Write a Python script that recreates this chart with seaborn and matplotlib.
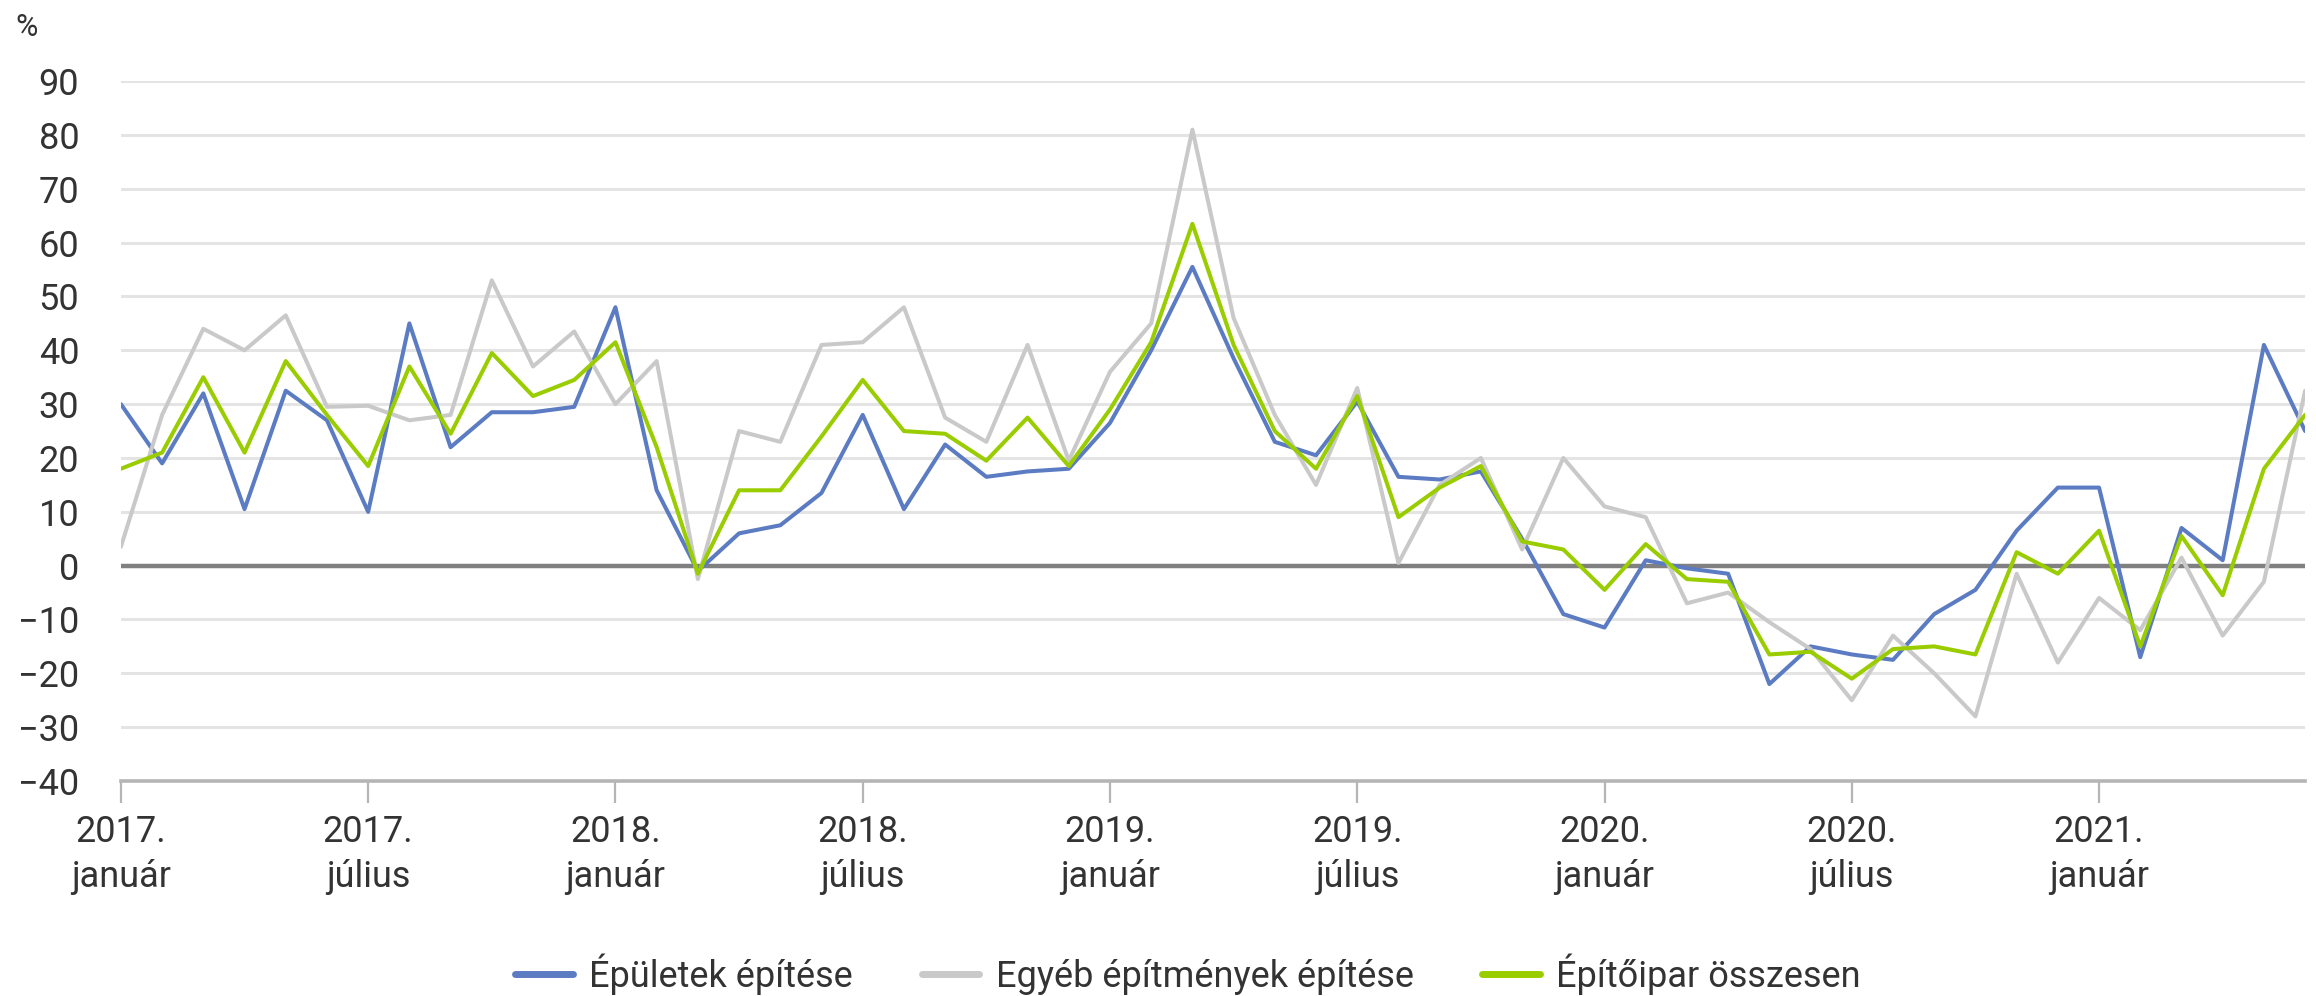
import numpy as np
import pandas as pd
import matplotlib
matplotlib.use("Agg")
import matplotlib.pyplot as plt
import seaborn as sns

# ---- data ----
month_index = list(range(54))  # 2017 January .. 2021 June
tick_positions = [0, 6, 12, 18, 24, 30, 36, 42, 48]
tick_labels = ["2017.\njanuár", "2017.\njúlius", "2018.\njanuár", "2018.\njúlius",
               "2019.\njanuár", "2019.\njúlius", "2020.\njanuár", "2020.\njúlius",
               "2021.\njanuár"]

epuletek = [30, 19, 32, 10.5, 32.5, 27, 10, 45, 22, 28.5, 28.5, 29.5, 48, 14, -1, 6, 7.5,
            13.5, 28, 10.5, 22.5, 16.5, 17.5, 18, 26.5, 40, 55.5, 38.5, 23, 20.5, 30.5,
            16.5, 16, 17.5, 5, -9, -11.5, 1, -0.5, -1.5, -22, -15, -16.5, -17.5, -9, -4.5,
            6.5, 14.5, 14.5, -17, 7, 1, 41, 25]
egyeb = [3.5, 28, 44, 40, 46.5, 29.5, 29.7, 27, 28, 53, 37, 43.5, 30, 38, -2.5, 25, 23,
         41, 41.5, 48, 27.5, 23, 41, 19.5, 36, 45, 81, 46, 28, 15, 33, 0.5, 15, 20, 3, 20,
         11, 9, -7, -5, -10.5, -15.5, -25, -13, -20, -28, -1.5, -18, -6, -12, 1.5, -13,
         -3, 32.5]
osszesen = [18, 21, 35, 21, 38, 28, 18.5, 37, 24.5, 39.5, 31.5, 34.5, 41.5, 22, -1.5, 14,
            14, 24, 34.5, 25, 24.5, 19.5, 27.5, 18.5, 29, 41.5, 63.5, 41, 25, 18, 31.5, 9,
            14.5, 18.5, 4.5, 3, -4.5, 4, -2.5, -3, -16.5, -16, -21, -15.5, -15, -16.5, 2.5,
            -1.5, 6.5, -15, 5.5, -5.5, 18, 28]

series_names = ["Épületek építése", "Egyéb építmények építése", "Építőipar összesen"]
series_colors = ["#5B7BC2", "#C9C9C9", "#9ACD00"]

df = pd.concat([
    pd.DataFrame({"month": month_index, "value": vals, "series": name})
    for name, vals in zip(series_names, [epuletek, egyeb, osszesen])
], ignore_index=True)

# ---- style ----
sns.set_theme(style="white")
plt.rcParams["font.family"] = ["Roboto", "DejaVu Sans"]
text_color = "#333333"

fig = plt.figure(figsize=(23.16, 9.96), dpi=100)
ax = fig.add_axes([0.0522, 0.2159, 0.9431, 0.7026])

ax.set_ylim(-40, 90)
ax.set_yticks(range(-40, 91, 10))
ax.yaxis.grid(True, color="#E4E4E4", linewidth=2.2)
ax.set_axisbelow(True)

ax.axhline(0, color="#808080", linewidth=3.2, zorder=1.5)

sns.lineplot(data=df, x="month", y="value", hue="series", hue_order=series_names,
             palette=dict(zip(series_names, series_colors)), linewidth=2.9,
             ax=ax, legend=True, zorder=3)

ax.set_xlim(0, 53)
ax.set_xticks(tick_positions)
ax.set_xticklabels(tick_labels, linespacing=1.3)
ax.set_xlabel("")
ax.set_ylabel("")

for s in ["top", "right", "left"]:
    ax.spines[s].set_visible(False)
ax.spines["bottom"].set_color("#B5B5B5")
ax.spines["bottom"].set_linewidth(2.6)

ax.tick_params(axis="x", which="both", bottom=True, length=16, width=1.6,
               color="#B5B5B5", pad=8, labelsize=26, labelcolor=text_color)
ax.tick_params(axis="y", which="both", left=False, length=0, pad=30,
               labelsize=26, labelcolor=text_color)
ax.set_yticklabels([f"{v}".replace("-", "\u2212") for v in range(-40, 91, 10)])

fig.text(0.0115, 0.972, "%", ha="center", va="center", fontsize=22, color=text_color)

handles, labels = ax.get_legend_handles_labels()
ax.legend_.remove()
leg = fig.legend(handles, labels, loc="center", bbox_to_anchor=(0.513, 0.022), ncol=3,
                 frameon=False, fontsize=26, handlelength=1.6, handletextpad=0.45,
                 columnspacing=1.9, labelcolor=text_color)
for line in leg.get_lines():
    line.set_linewidth(5)

fig.savefig("out.png", dpi=100, facecolor="white")
